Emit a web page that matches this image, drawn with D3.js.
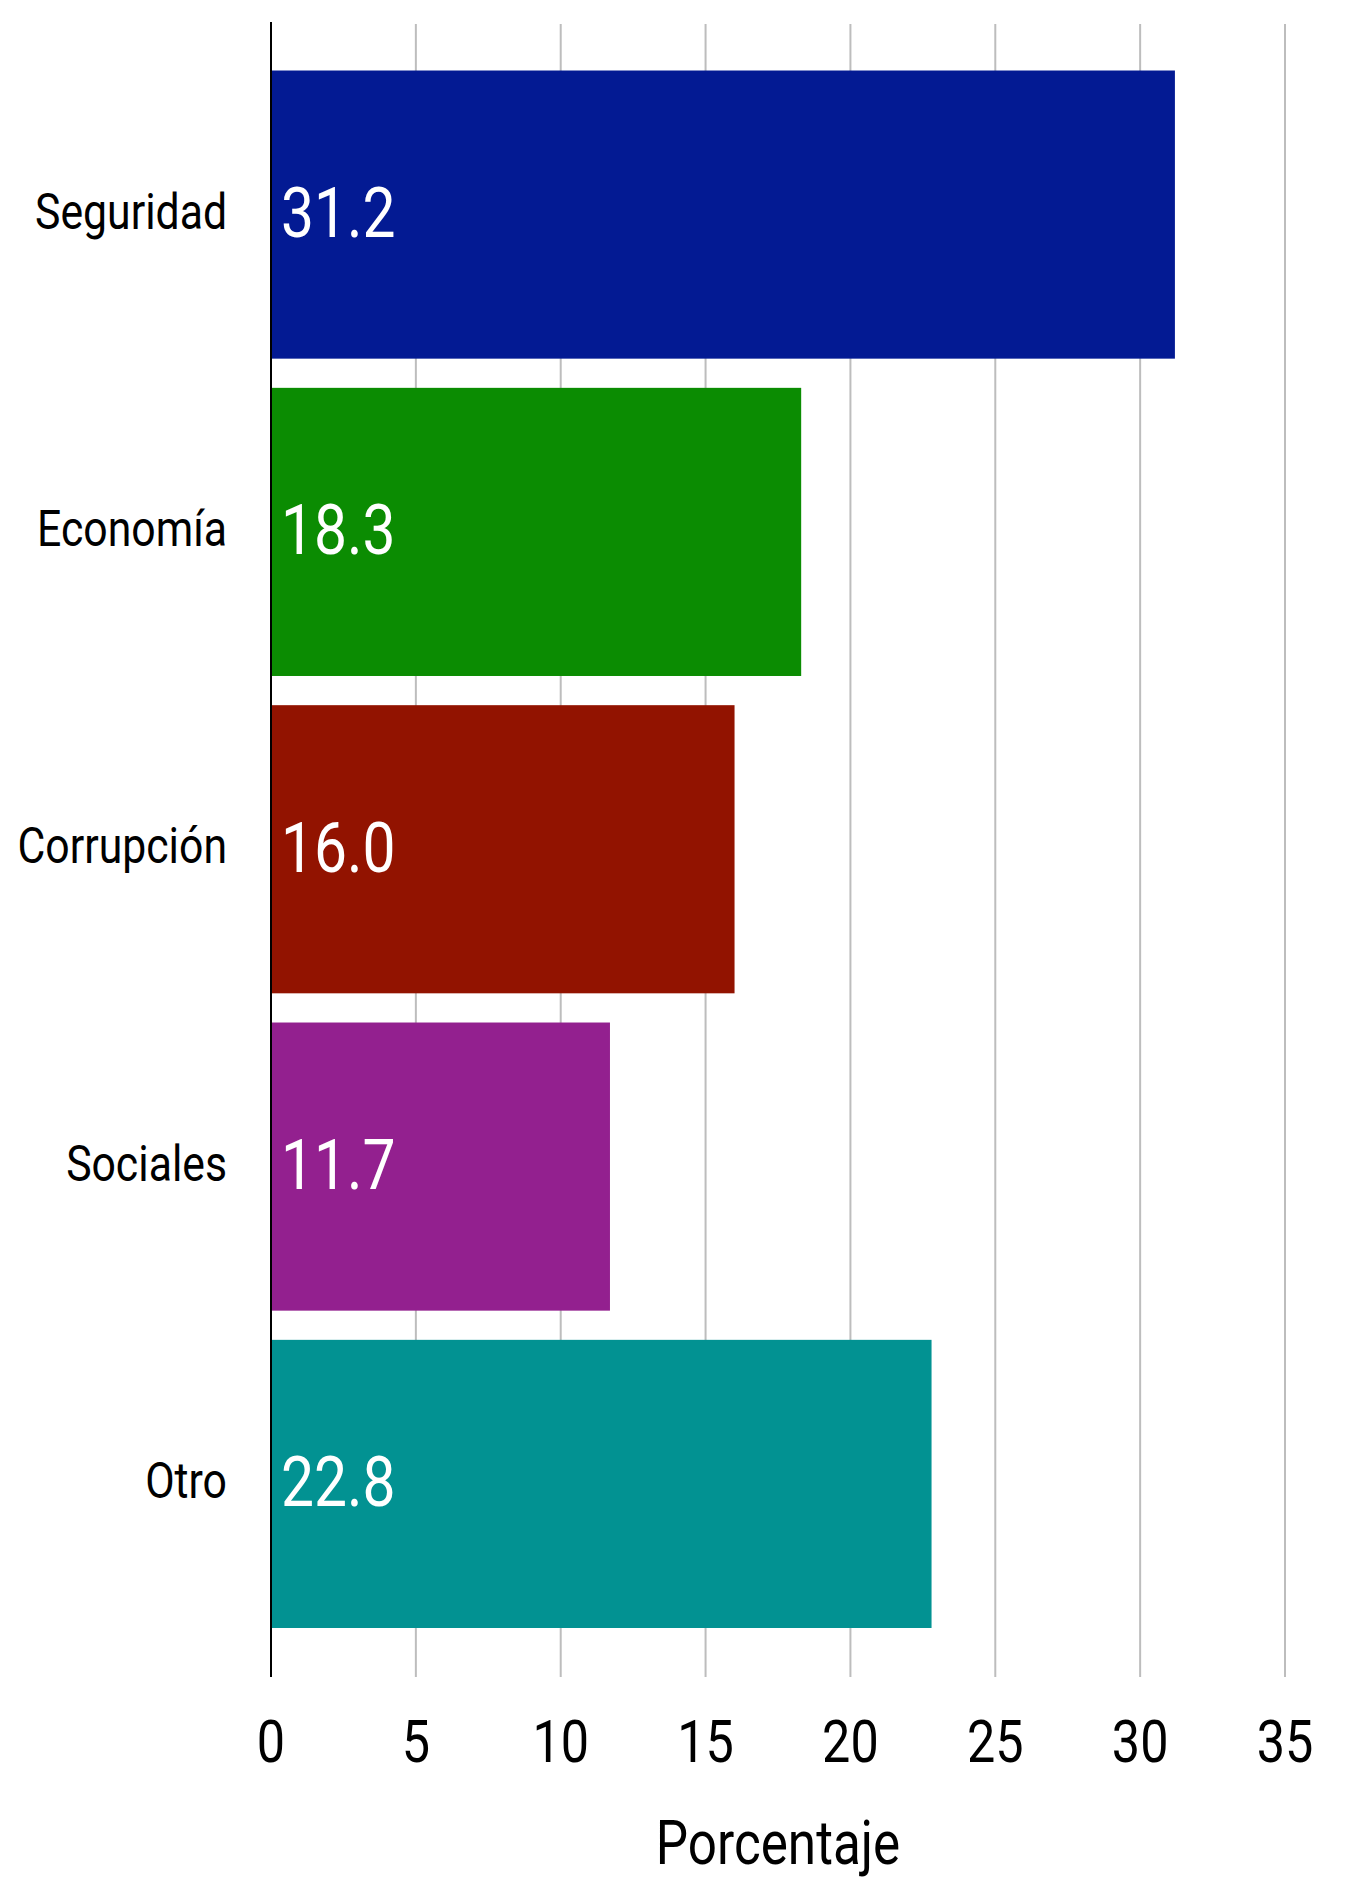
<!DOCTYPE html>
<html>
<head>
<meta charset="utf-8">
<script src="https://cdn.jsdelivr.net/npm/d3@7"></script>
<style>
  html, body { margin: 0; padding: 0; background: #ffffff; }
  svg { display: block; }
  text { font-family: Roboto, "Liberation Sans Narrow", sans-serif; }
</style>
</head>
<body>
<div id="chart"></div>
<script>
const categories = ["Seguridad", "Economía", "Corrupción", "Sociales", "Otro"];
const values = [31.2, 18.3, 16.0, 11.7, 22.8];
const barColors = ["#031a93", "#0b8c02", "#921300", "#93208f", "#029292"];
const xTicks = [0, 5, 10, 15, 20, 25, 30, 35];
const xTitle = "Porcentaje";

const W = 1349, H = 1881;
const svg = d3.select("#chart").append("svg").attr("width", W).attr("height", H);

const x = d3.scaleLinear().domain([0, 35]).range([271, 1285]);
const y = d3.scaleBand().domain(categories).range([24.5, 1674]).paddingInner(0.092).paddingOuter(0.145);

const SX = 0.84; // condensed look
const gridTop = 24, gridBottom = 1677;

// gridlines
svg.append("g").selectAll("line").data(xTicks.filter(t => t > 0)).join("line")
  .attr("x1", d => x(d)).attr("x2", d => x(d))
  .attr("y1", gridTop).attr("y2", gridBottom)
  .attr("stroke", "#bdbdbd").attr("stroke-width", 2);

// bars
svg.append("g").selectAll("rect").data(categories).join("rect")
  .attr("x", x(0)).attr("y", d => y(d))
  .attr("width", (d, i) => x(values[i]) - x(0))
  .attr("height", y.bandwidth())
  .attr("fill", (d, i) => barColors[i]);

// y axis line
svg.append("line")
  .attr("x1", x(0)).attr("x2", x(0)).attr("y1", 22).attr("y2", gridBottom)
  .attr("stroke", "#000").attr("stroke-width", 2);

// category labels
svg.append("g").selectAll("text").data(categories).join("text")
  .attr("transform", d => `translate(227,${y(d) + y.bandwidth() / 2 + 14}) scale(0.855,1)`)
  .attr("text-anchor", "end")
  .attr("font-size", 50)
  .attr("fill", "#000")
  .text(d => d);

// value labels
svg.append("g").selectAll("text").data(categories).join("text")
  .attr("transform", d => `translate(281,${y(d) + y.bandwidth() / 2 + 22.5}) scale(${SX},1)`)
  .attr("text-anchor", "start")
  .attr("font-size", 70)
  .attr("fill", "#ffffff")
  .text((d, i) => values[i].toFixed(1));

// x tick labels
svg.append("g").selectAll("text").data(xTicks).join("text")
  .attr("transform", d => `translate(${x(d)},1762) scale(${SX},1)`)
  .attr("text-anchor", "middle")
  .attr("font-size", 60)
  .attr("fill", "#000")
  .text(d => d);

// x title
svg.append("text")
  .attr("transform", `translate(${(x(0) + x(35)) / 2},1864) scale(${SX},1)`)
  .attr("text-anchor", "middle")
  .attr("font-size", 61)
  .attr("fill", "#000")
  .text(xTitle);
</script>
</body>
</html>
